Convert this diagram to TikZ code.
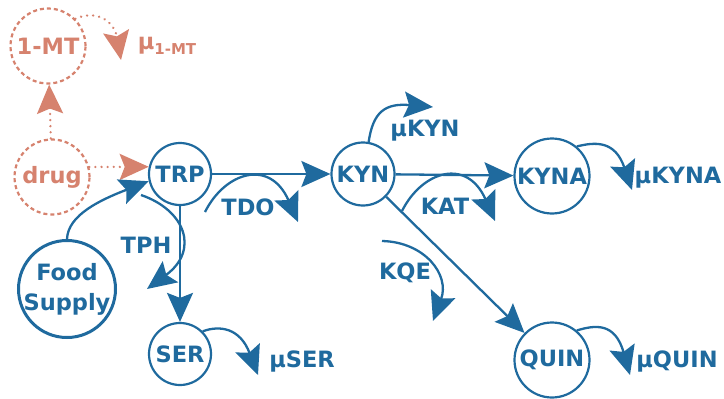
\documentclass[tikz,border=0pt]{standalone}
\usepackage{fontspec}
\setmainfont{DejaVu Sans}
\usetikzlibrary{arrows.meta}
\definecolor{pathblue}{RGB}{31,106,158}
\definecolor{drugorange}{RGB}{214,130,110}

\begin{document}
\begin{tikzpicture}[x=1pt,y=-1pt,
  every node/.style={font=\fontsize{22.5}{30}\selectfont\bfseries},
  headtip/.style={-{Stealth[length=29pt,width=26pt,inset=5pt]}},
  pool/.style={circle, draw=pathblue, line width=2.2pt, text=pathblue, inner sep=0pt},
  dosepool/.style={circle, draw=drugorange, line width=2.2pt, text=drugorange,
    inner sep=0pt, dash pattern=on 4pt off 3pt},
  flow/.style={headtip, draw=pathblue, line width=2.3pt},
  doseflow/.style={headtip, draw=drugorange, line width=2.5pt,
    dash pattern=on 0.1pt off 6pt, line cap=round},
  enzyme/.style={text=pathblue},
  rate/.style={text=pathblue},
  doserate/.style={text=drugorange}
]
\useasboundingbox (0,0) rectangle (724,399);

% compartments
\node[dosepool, minimum size=75pt] (onemt) at (48,46) {1-MT};
\node[dosepool, minimum size=75pt] (drug) at (52,177) {drug};
\node[pool, minimum size=62pt] (TRP) at (180,174) {TRP};
\node[pool, minimum size=97pt, line width=3pt, align=center, inner sep=-2pt] (food) at (67,289) {Food\\Supply};
\node[pool, minimum size=62pt] (SER) at (180,354) {SER};
\node[pool, minimum size=63pt] (KYN) at (363,174) {KYN};
\node[pool, minimum size=75pt] (KYNA) at (552,176) {KYNA};
\node[pool, minimum size=75pt] (QUIN) at (552,360) {QUIN};

% free ends of the elimination arrows
\coordinate (onemtout) at (121,60);
\coordinate (serout) at (258,375);
\coordinate (kynout) at (433,107);
\coordinate (kynaout) at (632,190);
\coordinate (quinout) at (630,375);

% enzyme arcs
\coordinate (tdoa) at (205,212);
\coordinate (tdob) at (298,222);
\coordinate (kata) at (402,211);
\coordinate (katb) at (495,221);
\coordinate (tpha) at (141,195);
\coordinate (tphb) at (147,289);
\coordinate (kqea) at (382,241);
\coordinate (kqeb) at (433,321);

% drug part
\draw[doseflow] (drug) -- (onemt);
\draw[doseflow] (drug.15) -- (TRP.167);
\draw[doseflow] (onemt.45) .. controls (100,8) and (115,25) .. (onemtout);
\node[doserate] (muonemt) at (167,46) {µ{\fontsize{15}{15}\selectfont\raisebox{-5pt}{1-MT}}};

% pathway
\draw[flow] (food.90) .. controls (68,215) and (100,200) .. (TRP.193);
\draw[flow] (TRP) -- (KYN);
\draw[flow] (TRP) -- (SER);
\draw[flow] (KYN) -- (KYNA);
\draw[flow] (KYN) -- (QUIN);

% enzymes
\draw[flow] (tdoa) .. controls (225,172) and (270,158) .. (tdob);
\node[enzyme] (tdo) at (248,207) {TDO};
\draw[flow] (kata) .. controls (422,171) and (467,157) .. (katb);
\node[enzyme] (kat) at (445,206) {KAT};
\draw[flow] (tpha) .. controls (185,210) and (200,250) .. (tphb);
\node[enzyme] (tph) at (146,245) {TPH};
\draw[flow] (kqea) .. controls (425,242) and (450,275) .. (kqeb);
\node[enzyme] (kqe) at (405,273) {KQE};

% elimination
\draw[flow] (SER.45) .. controls (220,325) and (240,328) .. (serout);
\node[rate] (muser) at (302,361) {µSER};
\draw[flow] (KYN.80) .. controls (373,112) and (385,103) .. (kynout);
\node[rate] (mukyn) at (425,131) {µKYN};
\draw[flow] (KYNA.50) .. controls (595,142) and (615,140) .. (kynaout);
\node[rate] (mukyna) at (678,178) {µKYNA};
\draw[flow] (QUIN.50) .. controls (595,325) and (615,322) .. (quinout);
\node[rate] (muquin) at (677,361) {µQUIN};
\end{tikzpicture}
\end{document}
